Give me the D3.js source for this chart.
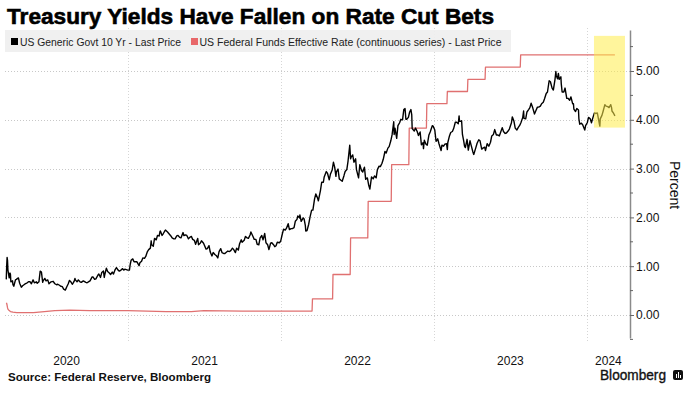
<!DOCTYPE html>
<html>
<head>
<meta charset="utf-8">
<script src="https://cdn.jsdelivr.net/npm/d3@7"></script>
<style>
  html, body { margin: 0; padding: 0; background: #fff; }
  svg { display: block; }
  text { font-family: "Liberation Sans", Arial, sans-serif; }
</style>
</head>
<body>
<svg id="chart" width="692" height="394"></svg>
<script>
// ---------------- DATA ----------------
const title = "Treasury Yields Have Fallen on Rate Cut Bets";
const seriesNames = ["US Generic Govt 10 Yr - Last Price", "US Federal Funds Effective Rate (continuous series) - Last Price"];
const source = "Source: Federal Reserve, Bloomberg";
const yearLabels = ["2020", "2021", "2022", "2023", "2024"];
const yTickValues = [0, 1, 2, 3, 4, 5];
const yMinorValues = [-0.5, 0.5, 1.5, 2.5, 3.5, 4.5, 5.5];
const xDomain = ["2020-03-13", "2024-04-13"];
const highlightDates = ["2024-01-18", "2024-04-01"];
const highlightValues = [3.84, 5.72];

// US 10-year yield (approximate closes)
const tenYear = [
["2020-03-16",0.73],["2020-03-17",1.00],["2020-03-18",1.18],["2020-03-19",1.12],["2020-03-20",0.92],["2020-03-23",0.76],["2020-03-24",0.84],["2020-03-25",0.86],["2020-03-26",0.83],["2020-03-27",0.68],["2020-03-31",0.70],
["2020-04-01",0.62],["2020-04-03",0.59],["2020-04-07",0.72],["2020-04-09",0.73],["2020-04-14",0.76],["2020-04-17",0.65],["2020-04-21",0.57],["2020-04-24",0.60],["2020-04-29",0.63],["2020-04-30",0.64],
["2020-05-05",0.66],["2020-05-08",0.68],["2020-05-12",0.68],["2020-05-15",0.64],["2020-05-19",0.72],["2020-05-22",0.66],["2020-05-27",0.68],["2020-05-29",0.65],
["2020-06-02",0.68],["2020-06-05",0.90],["2020-06-08",0.88],["2020-06-11",0.67],["2020-06-12",0.70],["2020-06-16",0.75],["2020-06-19",0.70],["2020-06-23",0.72],["2020-06-26",0.64],
["2020-07-01",0.68],["2020-07-06",0.69],["2020-07-10",0.64],["2020-07-14",0.62],["2020-07-17",0.63],["2020-07-21",0.61],["2020-07-24",0.59],["2020-07-28",0.58],["2020-07-31",0.53],
["2020-08-04",0.51],["2020-08-07",0.57],["2020-08-11",0.64],["2020-08-14",0.71],["2020-08-18",0.67],["2020-08-21",0.63],["2020-08-25",0.69],["2020-08-27",0.75],["2020-08-28",0.72],
["2020-09-01",0.68],["2020-09-04",0.72],["2020-09-08",0.68],["2020-09-11",0.67],["2020-09-16",0.70],["2020-09-18",0.69],["2020-09-22",0.67],["2020-09-25",0.66],["2020-09-30",0.69],
["2020-10-02",0.70],["2020-10-07",0.78],["2020-10-09",0.78],["2020-10-13",0.73],["2020-10-16",0.74],["2020-10-21",0.82],["2020-10-23",0.84],["2020-10-27",0.77],["2020-10-30",0.87],
["2020-11-03",0.90],["2020-11-05",0.77],["2020-11-06",0.82],["2020-11-10",0.96],["2020-11-13",0.89],["2020-11-17",0.86],["2020-11-20",0.83],["2020-11-24",0.88],["2020-11-27",0.84],
["2020-12-01",0.93],["2020-12-04",0.97],["2020-12-08",0.92],["2020-12-11",0.90],["2020-12-15",0.92],["2020-12-18",0.95],["2020-12-22",0.92],["2020-12-24",0.94],["2020-12-31",0.92],
["2021-01-04",0.92],["2021-01-06",1.04],["2021-01-08",1.12],["2021-01-12",1.15],["2021-01-15",1.09],["2021-01-19",1.09],["2021-01-22",1.09],["2021-01-27",1.01],["2021-01-29",1.07],
["2021-02-02",1.10],["2021-02-05",1.17],["2021-02-09",1.16],["2021-02-12",1.20],["2021-02-16",1.30],["2021-02-19",1.34],["2021-02-23",1.37],["2021-02-25",1.52],["2021-02-26",1.44],
["2021-03-02",1.41],["2021-03-05",1.57],["2021-03-09",1.54],["2021-03-12",1.63],["2021-03-16",1.62],["2021-03-18",1.71],["2021-03-19",1.72],["2021-03-23",1.63],["2021-03-26",1.67],["2021-03-30",1.73],["2021-03-31",1.74],
["2021-04-05",1.70],["2021-04-09",1.66],["2021-04-13",1.62],["2021-04-16",1.58],["2021-04-20",1.56],["2021-04-23",1.56],["2021-04-27",1.62],["2021-04-30",1.63],
["2021-05-04",1.59],["2021-05-07",1.58],["2021-05-12",1.69],["2021-05-14",1.63],["2021-05-18",1.64],["2021-05-21",1.63],["2021-05-25",1.56],["2021-05-28",1.59],
["2021-06-01",1.61],["2021-06-04",1.55],["2021-06-08",1.53],["2021-06-11",1.45],["2021-06-16",1.57],["2021-06-18",1.44],["2021-06-22",1.47],["2021-06-25",1.52],["2021-06-30",1.47],
["2021-07-02",1.43],["2021-07-06",1.35],["2021-07-09",1.36],["2021-07-13",1.42],["2021-07-16",1.29],["2021-07-20",1.21],["2021-07-23",1.28],["2021-07-27",1.24],["2021-07-30",1.22],
["2021-08-03",1.17],["2021-08-06",1.30],["2021-08-10",1.36],["2021-08-13",1.28],["2021-08-17",1.26],["2021-08-20",1.26],["2021-08-24",1.29],["2021-08-27",1.31],
["2021-08-31",1.30],["2021-09-03",1.32],["2021-09-07",1.37],["2021-09-10",1.34],["2021-09-14",1.28],["2021-09-17",1.37],["2021-09-21",1.33],["2021-09-24",1.46],["2021-09-28",1.54],["2021-09-30",1.49],
["2021-10-05",1.53],["2021-10-08",1.61],["2021-10-12",1.58],["2021-10-15",1.57],["2021-10-19",1.64],["2021-10-21",1.70],["2021-10-26",1.61],["2021-10-29",1.55],
["2021-11-02",1.55],["2021-11-05",1.45],["2021-11-09",1.44],["2021-11-12",1.58],["2021-11-16",1.63],["2021-11-19",1.54],["2021-11-23",1.67],["2021-11-26",1.48],["2021-11-30",1.44],
["2021-12-03",1.34],["2021-12-07",1.47],["2021-12-10",1.48],["2021-12-14",1.44],["2021-12-17",1.40],["2021-12-20",1.42],["2021-12-23",1.49],["2021-12-28",1.48],["2021-12-31",1.51],
["2022-01-04",1.66],["2022-01-07",1.76],["2022-01-11",1.74],["2022-01-14",1.78],["2022-01-18",1.87],["2022-01-21",1.75],["2022-01-25",1.77],["2022-01-28",1.77],
["2022-02-01",1.79],["2022-02-04",1.92],["2022-02-08",1.96],["2022-02-10",2.03],["2022-02-14",1.99],["2022-02-15",2.05],["2022-02-18",1.92],["2022-02-23",1.99],["2022-02-25",1.97],["2022-02-28",1.83],
["2022-03-01",1.72],["2022-03-04",1.73],["2022-03-08",1.86],["2022-03-11",2.00],["2022-03-15",2.15],["2022-03-18",2.15],["2022-03-22",2.38],["2022-03-25",2.48],["2022-03-29",2.40],["2022-03-31",2.34],
["2022-04-05",2.55],["2022-04-08",2.72],["2022-04-12",2.72],["2022-04-14",2.83],["2022-04-19",2.94],["2022-04-22",2.90],["2022-04-26",2.77],["2022-04-29",2.89],
["2022-05-03",2.97],["2022-05-06",3.13],["2022-05-09",3.03],["2022-05-12",2.84],["2022-05-13",2.93],["2022-05-17",2.99],["2022-05-20",2.79],["2022-05-24",2.76],["2022-05-27",2.74],
["2022-05-31",2.85],["2022-06-03",2.94],["2022-06-07",2.98],["2022-06-10",3.16],["2022-06-14",3.48],["2022-06-16",3.20],["2022-06-17",3.23],["2022-06-21",3.28],["2022-06-24",3.13],["2022-06-28",3.20],["2022-06-30",2.98],
["2022-07-05",2.81],["2022-07-08",3.08],["2022-07-12",2.96],["2022-07-15",2.93],["2022-07-19",3.03],["2022-07-22",2.78],["2022-07-26",2.81],["2022-07-29",2.67],
["2022-08-01",2.58],["2022-08-05",2.83],["2022-08-09",2.79],["2022-08-12",2.85],["2022-08-16",2.81],["2022-08-19",2.98],["2022-08-23",3.05],["2022-08-26",3.04],["2022-08-30",3.11],
["2022-09-02",3.19],["2022-09-06",3.35],["2022-09-09",3.32],["2022-09-13",3.42],["2022-09-16",3.45],["2022-09-20",3.57],["2022-09-23",3.69],["2022-09-27",3.96],["2022-09-28",3.70],["2022-09-30",3.83],
["2022-10-04",3.62],["2022-10-07",3.88],["2022-10-11",3.94],["2022-10-14",4.01],["2022-10-18",4.00],["2022-10-21",4.21],["2022-10-24",4.23],["2022-10-26",4.01],["2022-10-28",4.01],
["2022-11-01",4.05],["2022-11-04",4.16],["2022-11-07",4.21],["2022-11-09",4.10],["2022-11-10",3.82],["2022-11-15",3.77],["2022-11-18",3.83],["2022-11-22",3.76],["2022-11-25",3.68],["2022-11-29",3.75],
["2022-12-02",3.49],["2022-12-06",3.53],["2022-12-07",3.41],["2022-12-09",3.58],["2022-12-13",3.50],["2022-12-16",3.48],["2022-12-20",3.69],["2022-12-23",3.75],["2022-12-28",3.88],["2022-12-30",3.87],
["2023-01-03",3.79],["2023-01-06",3.56],["2023-01-10",3.61],["2023-01-13",3.51],["2023-01-18",3.37],["2023-01-20",3.48],["2023-01-24",3.46],["2023-01-27",3.50],["2023-01-31",3.51],
["2023-02-02",3.39],["2023-02-03",3.53],["2023-02-07",3.67],["2023-02-10",3.74],["2023-02-14",3.76],["2023-02-17",3.82],["2023-02-21",3.95],["2023-02-24",3.95],["2023-02-28",3.92],
["2023-03-02",4.08],["2023-03-03",3.97],["2023-03-07",3.97],["2023-03-08",3.98],["2023-03-10",3.70],["2023-03-13",3.57],["2023-03-15",3.46],["2023-03-17",3.43],["2023-03-21",3.60],["2023-03-24",3.38],["2023-03-28",3.57],["2023-03-31",3.47],
["2023-04-04",3.34],["2023-04-06",3.29],["2023-04-11",3.43],["2023-04-14",3.52],["2023-04-18",3.59],["2023-04-21",3.57],["2023-04-25",3.40],["2023-04-28",3.42],
["2023-05-02",3.44],["2023-05-04",3.37],["2023-05-08",3.51],["2023-05-12",3.46],["2023-05-16",3.54],["2023-05-19",3.67],["2023-05-23",3.70],["2023-05-26",3.80],["2023-05-30",3.69],
["2023-06-02",3.69],["2023-06-06",3.67],["2023-06-09",3.74],["2023-06-13",3.84],["2023-06-16",3.76],["2023-06-20",3.72],["2023-06-23",3.73],["2023-06-27",3.77],["2023-06-30",3.81],
["2023-07-05",3.94],["2023-07-07",4.06],["2023-07-11",3.97],["2023-07-14",3.83],["2023-07-18",3.79],["2023-07-21",3.84],["2023-07-25",3.89],["2023-07-28",3.95],
["2023-08-01",4.05],["2023-08-03",4.18],["2023-08-04",4.03],["2023-08-08",4.02],["2023-08-11",4.16],["2023-08-15",4.21],["2023-08-18",4.25],["2023-08-21",4.34],["2023-08-25",4.24],["2023-08-29",4.12],
["2023-09-01",4.18],["2023-09-05",4.26],["2023-09-08",4.26],["2023-09-12",4.28],["2023-09-15",4.33],["2023-09-19",4.36],["2023-09-22",4.43],["2023-09-26",4.54],["2023-09-29",4.57],
["2023-10-03",4.80],["2023-10-06",4.78],["2023-10-10",4.65],["2023-10-13",4.61],["2023-10-17",4.83],["2023-10-19",4.99],["2023-10-20",4.91],["2023-10-23",4.84],["2023-10-25",4.95],["2023-10-27",4.83],["2023-10-31",4.88],
["2023-11-01",4.73],["2023-11-03",4.57],["2023-11-07",4.57],["2023-11-10",4.65],["2023-11-14",4.44],["2023-11-17",4.44],["2023-11-21",4.40],["2023-11-24",4.47],["2023-11-28",4.33],["2023-11-30",4.33],
["2023-12-01",4.22],["2023-12-05",4.17],["2023-12-08",4.23],["2023-12-12",4.20],["2023-12-13",4.02],["2023-12-15",3.91],["2023-12-19",3.93],["2023-12-22",3.90],["2023-12-27",3.79],["2023-12-29",3.88],
["2024-01-02",3.94],["2024-01-05",4.05],["2024-01-09",4.02],["2024-01-12",3.94],["2024-01-16",4.06],["2024-01-19",4.14],["2024-01-23",4.13],["2024-01-26",4.14],["2024-01-31",3.91],
["2024-02-01",3.87],["2024-02-02",4.02],["2024-02-06",4.09],["2024-02-09",4.18],["2024-02-13",4.31],["2024-02-16",4.28],["2024-02-20",4.27],["2024-02-23",4.25],["2024-02-27",4.31],["2024-02-29",4.25],
["2024-03-01",4.18],["2024-03-05",4.13],["2024-03-08",4.08]
];

// Fed funds effective rate (each hike shown as previous level then new level)
const fedFunds = [
["2020-03-16",0.25],["2020-03-17",0.24],["2020-03-18",0.20],["2020-03-19",0.15],["2020-03-20",0.12],["2020-03-23",0.09],["2020-03-26",0.07],["2020-04-01",0.06],["2020-04-10",0.05],
["2020-05-20",0.05],["2020-06-15",0.07],["2020-07-10",0.09],["2020-08-15",0.10],["2020-10-01",0.09],["2020-12-31",0.09],
["2021-02-15",0.08],["2021-04-01",0.07],["2021-06-01",0.07],["2021-07-01",0.09],["2021-10-01",0.08],
["2022-03-16",0.08],["2022-03-17",0.33],["2022-05-04",0.33],["2022-05-05",0.83],["2022-06-15",0.83],["2022-06-16",1.58],
["2022-07-27",1.58],["2022-07-28",2.33],["2022-09-21",2.33],["2022-09-22",3.08],["2022-11-02",3.08],["2022-11-03",3.83],
["2022-12-14",3.83],["2022-12-15",4.33],["2023-02-01",4.33],["2023-02-02",4.58],["2023-03-22",4.58],["2023-03-23",4.83],
["2023-05-03",4.83],["2023-05-04",5.08],["2023-07-26",5.08],["2023-07-27",5.33],["2024-03-08",5.33]
];

// ---------------- CHART ----------------
const parse = d3.timeParse("%Y-%m-%d");
const svg = d3.select("#chart");

const x = d3.scaleTime().domain(xDomain.map(parse)).range([5, 630]);
const y = d3.scaleLinear().domain([0, 5]).range([315, 71]);
const plotTop = 30, plotBottom = 338, gridBottom = 341;

// Horizontal dotted gridlines
svg.append("g").selectAll("line").data(yTickValues).join("line")
  .attr("x1", 5).attr("x2", 630)
  .attr("y1", d => Math.round(y(d)) + 0.5).attr("y2", d => Math.round(y(d)) + 0.5)
  .attr("stroke", "#c8c8c8").attr("stroke-width", 1).attr("stroke-dasharray", "1,2");

// Vertical year gridlines
const yearStarts = yearLabels.slice(1).map(s => parse(s + "-01-01"));
svg.append("g").selectAll("line").data(yearStarts).join("line")
  .attr("x1", d => Math.round(x(d)) + 0.5).attr("x2", d => Math.round(x(d)) + 0.5)
  .attr("y1", plotTop - 2).attr("y2", gridBottom)
  .attr("stroke", "#d6d6d6").attr("stroke-width", 1).attr("stroke-dasharray", "1,2");

// Legend
const lg = svg.append("g");
lg.append("rect").attr("x", 5).attr("y", 30).attr("width", 506).attr("height", 22)
  .attr("fill", "#efefef").attr("opacity", 0.92);
lg.append("rect").attr("x", 11).attr("y", 38).attr("width", 7).attr("height", 7).attr("fill", "#000");
lg.append("text").attr("x", 20).attr("y", 45.5).attr("font-size", 11).attr("fill", "#222")
  .attr("textLength", 161).attr("lengthAdjust", "spacingAndGlyphs").text(seriesNames[0]);
lg.append("rect").attr("x", 191).attr("y", 38).attr("width", 7).attr("height", 7).attr("fill", "#e8686a");
lg.append("text").attr("x", 199.5).attr("y", 45.5).attr("font-size", 11).attr("fill", "#222")
  .attr("textLength", 302).attr("lengthAdjust", "spacingAndGlyphs").text(seriesNames[1]);

// Lines
const line = d3.line().x(d => x(parse(d[0]))).y(d => y(d[1]));
svg.append("path").datum(fedFunds).attr("d", line)
  .attr("fill", "none").attr("stroke", "#e07070").attr("stroke-width", 1.3).attr("stroke-linejoin", "round");
svg.append("path").datum(tenYear).attr("d", line)
  .attr("fill", "none").attr("stroke", "#000").attr("stroke-width", 1.4).attr("stroke-linejoin", "round");

// Highlight rectangle
const hx0 = x(parse(highlightDates[0])), hx1 = x(parse(highlightDates[1]));
svg.append("rect")
  .attr("x", hx0).attr("width", hx1 - hx0)
  .attr("y", y(highlightValues[1])).attr("height", y(highlightValues[0]) - y(highlightValues[1]))
  .attr("fill", "#ffec4a").attr("opacity", 0.55);

// Right axis
const yAxisScale = y.copy().domain([y.invert(plotBottom), y.invert(plotTop)]).range([plotBottom, plotTop]);
const axisG = svg.append("g").attr("transform", "translate(630,0)")
  .call(d3.axisRight(yAxisScale).tickValues(yTickValues).tickFormat(d3.format(".2f")).tickSize(4).tickSizeOuter(0).tickPadding(2));
axisG.select(".domain").attr("stroke", "#8a8a8a").attr("stroke-width", 1.5);
axisG.selectAll(".tick line").attr("stroke", "#666");
axisG.selectAll(".tick text").attr("font-size", 12).attr("fill", "#111")
  .attr("font-family", "'Liberation Sans', Arial, sans-serif");
axisG.selectAll(".minor").data(yMinorValues).join("line").attr("class", "minor")
  .attr("x1", 0).attr("x2", 3).attr("y1", d => yAxisScale(d)).attr("y2", d => yAxisScale(d))
  .attr("stroke", "#666");

// Percent label
svg.append("text").attr("transform", "translate(670,185) rotate(90)")
  .attr("text-anchor", "middle").attr("font-size", 14).attr("fill", "#111").text("Percent");

// Year labels centred in visible span of each year
const [d0, d1] = x.domain();
svg.append("g").selectAll("text").data(yearLabels).join("text")
  .attr("x", d => {
    const a = new Date(Math.max(+parse(d + "-01-01"), +d0));
    const b = new Date(Math.min(+parse((+d + 1) + "-01-01"), +d1));
    return (x(a) + x(b)) / 2;
  })
  .attr("y", 365).attr("text-anchor", "middle").attr("font-size", 12).attr("fill", "#111")
  .text(d => d);

// Title
svg.append("text").attr("x", 7).attr("y", 24).attr("font-size", 22.5).attr("font-weight", "bold")
  .attr("fill", "#000").attr("stroke", "#000").attr("stroke-width", 0.6)
  .attr("textLength", 487).attr("lengthAdjust", "spacingAndGlyphs").text(title);

// Source
svg.append("text").attr("x", 8).attr("y", 381).attr("font-size", 11).attr("font-weight", "bold")
  .attr("fill", "#111").attr("textLength", 203).attr("lengthAdjust", "spacingAndGlyphs").text(source);

// Bloomberg mark
svg.append("text").attr("x", 600).attr("y", 379.5).attr("font-size", 14)
  .attr("fill", "#111").attr("stroke", "#111").attr("stroke-width", 0.35)
  .attr("textLength", 66).attr("lengthAdjust", "spacingAndGlyphs").text("Bloomberg");
const logo = svg.append("g").attr("transform", "translate(673,370)");
logo.append("rect").attr("width", 10).attr("height", 10).attr("rx", 2).attr("fill", "#111");
[[3, 4, 4], [5, 2, 6], [7, 5, 3]].forEach(([bx, by, bh]) =>
  logo.append("rect").attr("x", bx).attr("y", by).attr("width", 1).attr("height", bh).attr("fill", "#fff"));
</script>
</body>
</html>
